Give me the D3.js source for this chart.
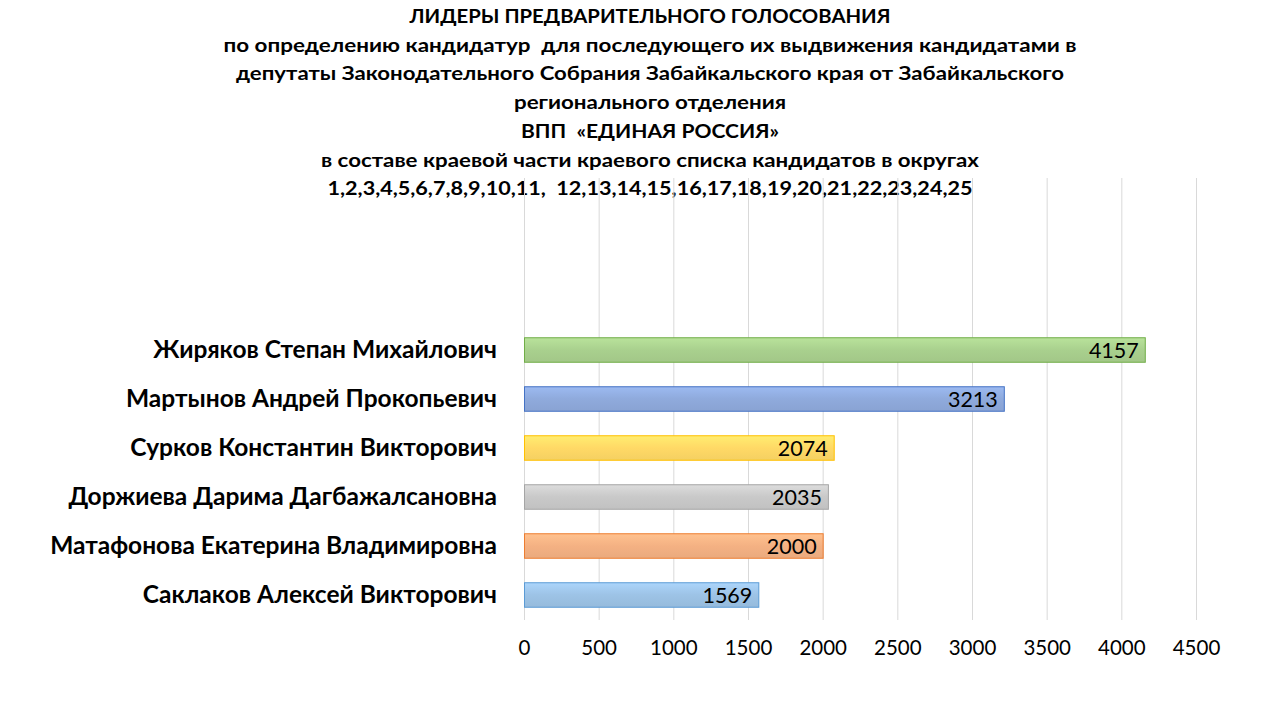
<!DOCTYPE html>
<html><head><meta charset="utf-8">
<script src="https://cdn.jsdelivr.net/npm/d3@7"></script>
<style>body{margin:0;background:#fff;} svg{display:block;}</style>
</head><body>
<svg id="c" width="1280" height="720"></svg>
<script>
const titleLines = [
  "ЛИДЕРЫ ПРЕДВАРИТЕЛЬНОГО ГОЛОСОВАНИЯ",
  "по определению кандидатур  для последующего их выдвижения кандидатами в",
  "депутаты Законодательного Собрания Забайкальского края от Забайкальского",
  "регионального отделения",
  "ВПП  «ЕДИНАЯ РОССИЯ»",
  "в составе краевой части краевого списка кандидатов в округах",
  "1,2,3,4,5,6,7,8,9,10,11,  12,13,14,15,16,17,18,19,20,21,22,23,24,25"
];
const candidates = [
  "Жиряков Степан Михайлович",
  "Мартынов Андрей Прокопьевич",
  "Сурков Константин Викторович",
  "Доржиева Дарима Дагбажалсановна",
  "Матафонова Екатерина Владимировна",
  "Саклаков Алексей Викторович"
];
const votes = [4157, 3213, 2074, 2035, 2000, 1569];
const tickValues = [0, 500, 1000, 1500, 2000, 2500, 3000, 3500, 4000, 4500];
const fills = ["#a9d08e", "#8faadc", "#ffd966", "#c9c9c9", "#f4b183", "#9dc3e6"];
const strokes = ["#70ad47", "#4472c4", "#ffc000", "#a5a5a5", "#ed7d31", "#5b9bd5"];

const svg = d3.select("#c");
const FONT = "Lato, 'Open Sans', sans-serif";

// title
const titleW = [481, 853, 828, 272, 258, 658, 645];
const tg = svg.append("g");
titleLines.forEach((t, i) => {
  const el = tg.append("text")
    .attr("x", 650).attr("y", 23 + i * 28.7)
    .attr("text-anchor", "middle")
    .attr("font-family", FONT).attr("font-weight", "bold")
    .attr("font-size", 18).attr("fill", "#000")
    .style("white-space", "pre")
    .text(t);
  const w = el.node().getComputedTextLength();
  if (Math.abs(w - titleW[i]) > 3) el.attr("textLength", titleW[i]).attr("lengthAdjust", "spacingAndGlyphs");
});

const x = d3.scaleLinear().domain([0, 4500]).range([524, 1196]);
const y = d3.scaleBand().domain(candidates).range([325, 619]).paddingInner(0.5).paddingOuter(0.25);

// grid
svg.append("g").selectAll("line").data(tickValues).join("line")
  .attr("x1", d => x(d) + 0.5).attr("x2", d => x(d) + 0.5)
  .attr("y1", 178).attr("y2", 620)
  .attr("stroke", "#d9d9d9").attr("stroke-width", 1);

// gradients
const defs = svg.append("defs");
fills.forEach((f, i) => {
  const g = defs.append("linearGradient").attr("id", "g" + i).attr("x1", 0).attr("x2", 0).attr("y1", 0).attr("y2", 1);
  const c = d3.color(f);
  g.append("stop").attr("offset", "0%").attr("stop-color", c.brighter(0.25));
  g.append("stop").attr("offset", "50%").attr("stop-color", f);
  g.append("stop").attr("offset", "100%").attr("stop-color", d3.color(f).darker(0.12));
});

// bars
svg.append("g").selectAll("rect").data(votes).join("rect")
  .attr("x", x(0) + 0.5)
  .attr("y", (d, i) => y(candidates[i]) + 0.5)
  .attr("width", d => x(d) - x(0))
  .attr("height", y.bandwidth())
  .attr("fill", (d, i) => `url(#g${i})`)
  .attr("stroke", (d, i) => strokes[i]).attr("stroke-width", 1);

// value labels
svg.append("g").selectAll("text").data(votes).join("text")
  .attr("x", d => x(d) - 6)
  .attr("y", (d, i) => y(candidates[i]) + y.bandwidth() / 2 + 8)
  .attr("text-anchor", "end")
  .attr("font-family", FONT).attr("font-size", 21.5).attr("fill", "#000")
  .text(d => d);

// category labels
svg.append("g").selectAll("text").data(candidates).join("text")
  .attr("x", 497)
  .attr("y", d => y(d) + y.bandwidth() / 2 + 8.5)
  .attr("text-anchor", "end")
  .attr("font-family", FONT).attr("font-weight", "bold")
  .attr("font-size", 24.5).attr("fill", "#000")
  .text(d => d);

// x axis
const ax = svg.append("g").attr("transform", "translate(0,620)")
  .call(d3.axisBottom(x).tickValues(tickValues).tickSize(0).tickPadding(20).tickFormat(d3.format("d")));
ax.select(".domain").remove();
ax.selectAll("text").attr("font-family", FONT).attr("font-size", 20.5).attr("fill", "#000");
</script>
</body></html>
